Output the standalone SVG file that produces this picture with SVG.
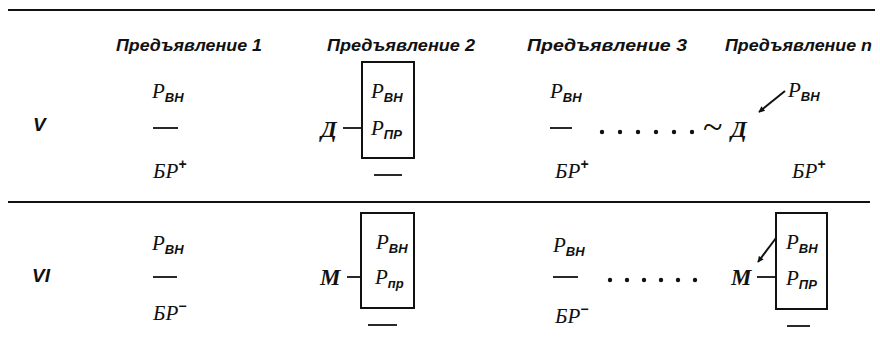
<svg xmlns="http://www.w3.org/2000/svg" width="880" height="359" viewBox="0 0 880 359">
<defs>
<marker id="ah" viewBox="0 0 10 10" refX="9" refY="5" markerWidth="7" markerHeight="6" orient="auto" markerUnits="userSpaceOnUse">
<path d="M0,0 L10,5 L0,10 z" fill="#111"/>
</marker>
<style>
.hd{font-family:"Liberation Sans",Arial,sans-serif;font-style:italic;font-weight:bold;font-size:17px;fill:#111}
.f{font-family:"Liberation Serif","Times New Roman",serif;font-style:italic;font-size:21px;fill:#111}
.sb{font-family:"Liberation Sans",Arial,sans-serif;font-size:13px;font-weight:bold}
.sp{font-family:"Liberation Sans",Arial,sans-serif;font-size:14px;font-weight:bold}
.big{font-size:23px;font-weight:bold}
.tl{font-family:"Liberation Serif","Times New Roman",serif;font-size:36px;fill:#111}
.rl{font-family:"Liberation Sans",Arial,sans-serif;font-style:italic;font-weight:bold;font-size:19px;fill:#111}
.rule{stroke:#111;stroke-width:2}
.bx{fill:none;stroke:#111;stroke-width:2}
.ln{stroke:#111;stroke-width:1.8;fill:none}
.ar{stroke:#111;stroke-width:2;fill:none;marker-end:url(#ah)}
.dot{fill:#111}
</style>
</defs>
<rect width="880" height="359" fill="#fff"/>
<g id="rules">
<line class="rule" x1="8" y1="10" x2="875" y2="10"/>
<line class="rule" x1="8" y1="202" x2="870" y2="202"/>
</g>
<g id="headers">
<text class="hd" x="116" y="51" textLength="146" lengthAdjust="spacingAndGlyphs">Предъявление 1</text>
<text class="hd" x="327" y="51" textLength="148" lengthAdjust="spacingAndGlyphs">Предъявление 2</text>
<text class="hd" x="527" y="51" textLength="160" lengthAdjust="spacingAndGlyphs">Предъявление 3</text>
<text class="hd" x="725" y="51" textLength="147" lengthAdjust="spacingAndGlyphs">Предъявление n</text>
</g>
<g id="row-labels">
<text class="rl" x="33" y="131">V</text>
<text class="rl" x="32" y="282">VI</text>
</g>
<!-- Row V -->
<g id="v-col1">
<text class="f" x="152" y="98">P<tspan class="sb" dy="4">ВН</tspan></text>
<line class="ln" x1="153" y1="128" x2="178" y2="128"/>
<text class="f" x="153" y="178">БР<tspan class="sp" dy="-9">+</tspan></text>
</g>
<g id="v-col2">
<rect class="bx" x="362" y="62" width="52" height="96"/>
<text class="f" x="371" y="98">P<tspan class="sb" dy="4">ВН</tspan></text>
<text class="f" x="371" y="135">P<tspan class="sb" dy="4">ПР</tspan></text>
<text class="f big" x="321" y="137">Д</text>
<line class="ln" x1="374" y1="175" x2="402" y2="175"/>
</g>
<g id="v-col3">
<text class="f" x="550" y="98">P<tspan class="sb" dy="4">ВН</tspan></text>
<line class="ln" x1="550" y1="128" x2="572" y2="128"/>
<text class="f" x="555" y="178">БР<tspan class="sp" dy="-9">+</tspan></text>
<circle class="dot" cx="602" cy="132" r="2.2"/>
<circle class="dot" cx="620" cy="132" r="2.2"/>
<circle class="dot" cx="638" cy="132" r="2.2"/>
<circle class="dot" cx="656" cy="132" r="2.2"/>
<circle class="dot" cx="674" cy="132" r="2.2"/>
<circle class="dot" cx="692" cy="132" r="2.2"/>
</g>
<g id="v-coln">
<text class="tl" x="703" y="139">~</text>
<text class="f big" x="731" y="137">Д</text>
<text class="f" x="788" y="97">P<tspan class="sb" dy="4">ВН</tspan></text>
<text class="f" x="792" y="178">БР<tspan class="sp" dy="-9">+</tspan></text>
</g>
<!-- Row VI -->
<g id="vi-col1">
<text class="f" x="152" y="250">P<tspan class="sb" dy="4">ВН</tspan></text>
<line class="ln" x1="153" y1="277" x2="177" y2="277"/>
<text class="f" x="153" y="320">БР<tspan class="sp" dy="-9">−</tspan></text>
</g>
<g id="vi-col2">
<rect class="bx" x="361" y="213" width="53" height="95"/>
<text class="f" x="376" y="249">P<tspan class="sb" dy="4">ВН</tspan></text>
<text class="f" x="375" y="284">P<tspan class="sb" dy="4">пр</tspan></text>
<text class="f big" x="320" y="285">M</text>
<line class="ln" x1="368" y1="325" x2="397" y2="325"/>
</g>
<g id="vi-col3">
<text class="f" x="553" y="252">P<tspan class="sb" dy="4">ВН</tspan></text>
<line class="ln" x1="553" y1="277" x2="578" y2="277"/>
<text class="f" x="555" y="323">БР<tspan class="sp" dy="-9">−</tspan></text>
<circle class="dot" cx="610" cy="280" r="2.2"/>
<circle class="dot" cx="627" cy="280" r="2.2"/>
<circle class="dot" cx="644" cy="280" r="2.2"/>
<circle class="dot" cx="661" cy="280" r="2.2"/>
<circle class="dot" cx="678" cy="280" r="2.2"/>
<circle class="dot" cx="695" cy="280" r="2.2"/>
</g>
<g id="vi-coln">
<rect class="bx" x="776" y="213" width="51" height="96"/>
<text class="f" x="786" y="249">P<tspan class="sb" dy="4">ВН</tspan></text>
<text class="f" x="786" y="285">P<tspan class="sb" dy="4">ПР</tspan></text>
<text class="f big" x="731" y="285">M</text>
<line class="ln" x1="787" y1="326" x2="810" y2="326"/>
</g>
<g id="connectors">
<line class="ln" x1="343" y1="128" x2="362" y2="128"/>
<line class="ar" x1="785" y1="91" x2="759" y2="112"/>
<line class="ln" x1="347" y1="277" x2="361" y2="277"/>
<line class="ln" x1="757" y1="277" x2="776" y2="277"/>
<line class="ar" x1="776" y1="238" x2="758" y2="262"/>
</g>
</svg>
